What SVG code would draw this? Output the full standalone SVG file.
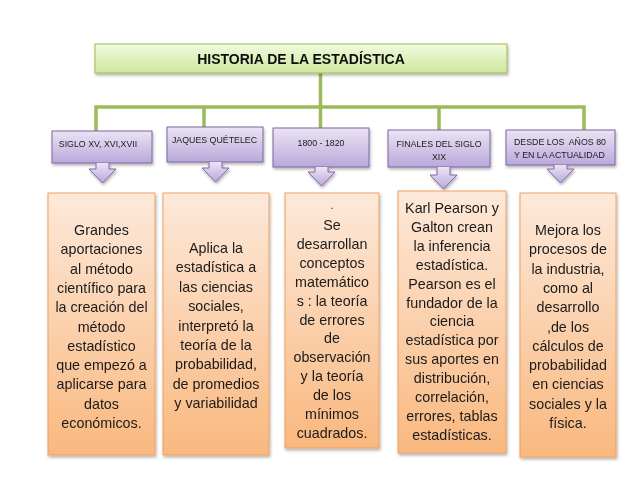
<svg xmlns="http://www.w3.org/2000/svg" width="638" height="479" viewBox="0 0 638 479">
<defs>
<linearGradient id="gG" x1="0" y1="0" x2="0" y2="1"><stop offset="0" stop-color="#f2fadf"/><stop offset="1" stop-color="#cde79c"/></linearGradient>
<linearGradient id="gP" x1="0" y1="0" x2="0" y2="1"><stop offset="0" stop-color="#ebe4f5"/><stop offset="1" stop-color="#b9a8da"/></linearGradient>
<linearGradient id="gO" x1="0" y1="0" x2="0" y2="1"><stop offset="0" stop-color="#fde9da"/><stop offset="1" stop-color="#f9b87f"/></linearGradient>
<filter id="sh" x="-10%" y="-10%" width="130%" height="130%"><feDropShadow dx="1" dy="2" stdDeviation="1.5" flood-color="#000" flood-opacity="0.3"/></filter>
</defs>
<style>
.title{fill:url(#gG);stroke:#9bbb59;stroke-width:1}
.hdr{fill:url(#gP);stroke:#8064a2;stroke-width:1}
.box{fill:url(#gO);stroke:#f0a060;stroke-width:1}
.ht{font-family:"Liberation Sans",Arial,sans-serif;font-size:8.8px;fill:#1a1a1a}
.bt{font-family:"Liberation Sans",Arial,sans-serif;font-size:14.3px;fill:#1a1a1a;text-anchor:middle}
.tt{font-family:"Liberation Sans",Arial,sans-serif;font-size:14px;font-weight:bold;fill:#111;text-anchor:middle}
.con{fill:none;stroke:#9bbb59;stroke-width:3.5}
</style>
<rect width="638" height="479" fill="#fff"/>
<g id="connectors">
<path class="con" d="M320.5 73V107M96 131V107H584V130M204 107V127M320.5 107V128M439 107V130"/>
</g>
<g id="title" filter="url(#sh)"><rect class="title" x="95" y="44" width="412" height="29"/><text class="tt" x="301" y="63.5">HISTORIA DE LA ESTADÍSTICA</text></g>
<g id="h1" filter="url(#sh)"><rect class="hdr" x="52" y="131" width="100" height="32"/><path class="hdr" d="M96 163V169H89L102.5 183L116 169H109V163"/><text class="ht" x="98" y="147" text-anchor="middle">SIGLO XV, XVI,XVII</text></g>
<g id="h2" filter="url(#sh)"><rect class="hdr" x="167" y="127" width="96" height="35"/><path class="hdr" d="M209 162V168H202L215.5 182L229 168H222V162"/><text class="ht" x="214.5" y="143" text-anchor="middle">JAQUES QUÉTELEC</text></g>
<g id="h3" filter="url(#sh)"><rect class="hdr" x="273" y="128" width="96" height="39"/><path class="hdr" d="M315 167V172H308L321.5 186L335 172H328V167"/><text class="ht" x="321" y="146" text-anchor="middle">1800 - 1820</text></g>
<g id="h4" filter="url(#sh)"><rect class="hdr" x="388" y="130" width="102" height="37"/><path class="hdr" d="M437 167V175H430L443.5 189L457 175H450V167"/><text class="ht" x="439" y="147" text-anchor="middle">FINALES DEL SIGLO</text><text class="ht" x="439" y="160" text-anchor="middle">XIX</text></g>
<g id="h5" filter="url(#sh)"><rect class="hdr" x="506" y="130" width="109" height="35"/><path class="hdr" d="M554 165V169H547L560.5 183L574 169H567V165"/><text class="ht" x="514" y="145" xml:space="preserve">DESDE LOS  AÑOS 80</text><text class="ht" x="514" y="158">Y EN LA ACTUALIDAD</text></g>
<g id="b1" filter="url(#sh)"><rect class="box" x="48" y="193" width="107" height="262"/>
<text class="bt"><tspan x="101.5" y="235">Grandes</tspan><tspan x="101.5" y="254.3">aportaciones</tspan><tspan x="101.5" y="273.6">al método</tspan><tspan x="101.5" y="292.9">científico para</tspan><tspan x="101.5" y="312.2">la creación del</tspan><tspan x="101.5" y="331.5">método</tspan><tspan x="101.5" y="350.8">estadístico</tspan><tspan x="101.5" y="370.1">que empezó a</tspan><tspan x="101.5" y="389.4">aplicarse para</tspan><tspan x="101.5" y="408.7">datos</tspan><tspan x="101.5" y="428">económicos.</tspan></text></g>
<g id="b2" filter="url(#sh)"><rect class="box" x="163" y="193" width="106" height="262"/>
<text class="bt"><tspan x="216" y="253">Aplica la</tspan><tspan x="216" y="272.4">estadística a</tspan><tspan x="216" y="291.8">las ciencias</tspan><tspan x="216" y="311.2">sociales,</tspan><tspan x="216" y="330.6">interpretó la</tspan><tspan x="216" y="350">teoría de la</tspan><tspan x="216" y="369.4">probabilidad,</tspan><tspan x="216" y="388.8">de promedios</tspan><tspan x="216" y="408.2">y variabilidad</tspan></text></g>
<g id="b3" filter="url(#sh)"><rect class="box" x="285" y="193" width="94" height="255"/>
<text class="bt"><tspan x="332" y="209" font-size="10">.</tspan><tspan x="332" y="230">Se</tspan><tspan x="332" y="248.9">desarrollan</tspan><tspan x="332" y="267.8">conceptos</tspan><tspan x="332" y="286.7">matemático</tspan><tspan x="332" y="305.6">s : la teoría</tspan><tspan x="332" y="324.5">de errores</tspan><tspan x="332" y="343.4">de</tspan><tspan x="332" y="362.3">observación</tspan><tspan x="332" y="381.2">y la teoría</tspan><tspan x="332" y="400.1">de los</tspan><tspan x="332" y="419">mínimos</tspan><tspan x="332" y="437.9">cuadrados.</tspan></text></g>
<g id="b4" filter="url(#sh)"><rect class="box" x="398" y="191" width="108" height="262"/>
<text class="bt"><tspan x="452" y="213">Karl Pearson y</tspan><tspan x="452" y="231.9">Galton crean</tspan><tspan x="452" y="250.8">la inferencia</tspan><tspan x="452" y="269.7">estadística.</tspan><tspan x="452" y="288.6">Pearson es el</tspan><tspan x="452" y="307.5">fundador de la</tspan><tspan x="452" y="326.4">ciencia</tspan><tspan x="452" y="345.3">estadística por</tspan><tspan x="452" y="364.2">sus aportes en</tspan><tspan x="452" y="383.1">distribución,</tspan><tspan x="452" y="402">correlación,</tspan><tspan x="452" y="420.9">errores, tablas</tspan><tspan x="452" y="439.8">estadísticas.</tspan></text></g>
<g id="b5" filter="url(#sh)"><rect class="box" x="520" y="193" width="96" height="264"/>
<text class="bt"><tspan x="568" y="235">Mejora los</tspan><tspan x="568" y="254.3">procesos de</tspan><tspan x="568" y="273.6">la industria,</tspan><tspan x="568" y="292.9">como al</tspan><tspan x="568" y="312.2">desarrollo</tspan><tspan x="568" y="331.5">,de los</tspan><tspan x="568" y="350.8">cálculos de</tspan><tspan x="568" y="370.1">probabilidad</tspan><tspan x="568" y="389.4">en ciencias</tspan><tspan x="568" y="408.7">sociales y la</tspan><tspan x="568" y="428">física.</tspan></text></g>
</svg>
